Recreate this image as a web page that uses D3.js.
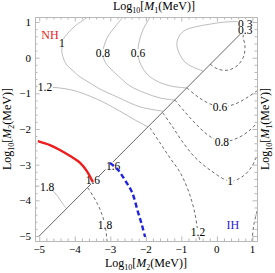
<!DOCTYPE html>
<html>
<head>
<meta charset="utf-8">
<script src="https://cdn.jsdelivr.net/npm/d3@7"></script>
<style>
body { margin: 0; background: #fff; }
svg { display: block; }
</style>
</head>
<body>
<div id="chart"></div>
<script>

// axis ranges (log10 MeV) and ticks
var xDomain = [-5.12, 1.13];
var yDomain = [-5.14, 1.14];
var majorTicks = [-5, -4, -3, -2, -1, 0, 1];

// NH contours (solid, above the diagonal)
var nh03 = [[-0.39,-0.37],[-0.66,-0.27],[-0.92,-0.10],[-1.12,0.30],[-1.09,0.55],[-0.93,0.75],[-0.62,0.86],[-0.19,0.94],[0.23,1.00],[0.65,1.00],[0.85,0.94]];
var nh06 = [[-1.88,1.14],[-2.08,0.78],[-2.19,0.44],[-2.22,0.13],[-2.16,-0.15],[-1.99,-0.43],[-1.74,-0.63],[-1.32,-0.79],[-0.84,-0.85]];
var nh08 = [[-2.64,1.14],[-2.87,0.86],[-3.04,0.64],[-3.15,0.41],[-3.21,0.13],[-3.15,-0.12],[-3.01,-0.29],[-2.78,-0.51],[-2.45,-0.79],[-2.02,-0.99],[-1.60,-1.13],[-1.18,-1.19]];
var nh10 = [[-3.63,1.14],[-3.99,0.89],[-4.19,0.69],[-4.33,0.50],[-4.36,0.30],[-4.36,0.13],[-4.30,-0.07],[-4.22,-0.21],[-4.05,-0.37],[-3.85,-0.54],[-3.57,-0.71],[-3.29,-0.88],[-2.81,-1.10],[-2.16,-1.38],[-1.52,-1.50]];
var nh12 = [[-5.12,-0.79],[-4.84,-0.82],[-4.42,-0.85],[-3.99,-0.93],[-3.57,-1.08],[-3.15,-1.27],[-2.73,-1.50],[-2.30,-1.75],[-1.94,-1.94]];
var nh18 = [[-5.12,-3.60],[-4.78,-3.63],[-4.56,-3.79],[-4.39,-4.02],[-4.25,-4.22]];

// IH contours (dashed, below the diagonal)
var ih03 = [[-0.19,-0.18],[0.03,-0.32],[0.31,-0.35],[0.59,-0.21],[0.76,0.05],[0.79,0.35],[0.74,0.61],[0.85,0.80]];
var ih06 = [[-0.84,-0.85],[-0.56,-1.08],[-0.25,-1.27],[0.09,-1.38],[0.51,-1.30],[0.88,-1.10],[1.13,-0.93]];
var ih08 = [[-1.18,-1.19],[-0.90,-1.52],[-0.59,-1.86],[-0.25,-2.17],[0.14,-2.36],[0.59,-2.25],[0.93,-2.03],[1.13,-1.83]];
var ih10 = [[-1.52,-1.55],[-1.26,-1.92],[-0.98,-2.34],[-0.62,-2.79],[-0.19,-3.15],[0.37,-3.46],[0.74,-3.32],[0.99,-3.04],[1.13,-2.73]];
var ih12 = [[-1.88,-1.97],[-1.60,-2.39],[-1.32,-2.81],[-1.04,-3.21],[-0.81,-3.71],[-0.64,-4.27],[-0.53,-4.89],[-0.48,-5.14]];
var ih18 = [[-3.63,-3.65],[-3.37,-4.08],[-3.23,-4.41],[-3.15,-4.69],[-3.09,-5.14]];
var ihEdge = [[1.13,-4.30],[1.04,-4.69],[0.99,-5.14]];

// highlighted 1.6 curves
var nhRed = [[-5.04,-2.34],[-4.70,-2.45],[-4.42,-2.59],[-4.13,-2.76],[-3.85,-2.95],[-3.66,-3.18],[-3.49,-3.49]];
var ihBlue = [[-3.01,-2.95],[-2.78,-3.15],[-2.59,-3.43],[-2.39,-3.77],[-2.22,-4.33],[-2.11,-4.69],[-2.02,-5.03]];

// diagonal M1 = M2
var diagonal = [[-5, -5], [1, 1]];

// contour labels [x, y, text]
var contourLabels = [
    [-4.36, 0.41, '1'], [-3.21, 0.13, '0.8'], [-2.22, 0.13, '0.6'],
    [-4.84, -0.82, '1.2'], [-4.78, -3.63, '1.8'], [-3.49, -3.43, '1.6'],
    [-2.92, -3.04, '1.6'], [-3.15, -4.69, '1.8'], [-0.53, -4.89, '1.2'],
    [0.37, -3.46, '1'], [0.14, -2.36, '0.8'], [0.09, -1.38, '0.6'],
    [0.80, 0.94, '0.3'], [0.80, 0.77, '0.3']
];
var regionLabels = [[-4.70, 0.64, 'NH', '#ee1c1c'], [0.45, -4.69, 'IH', '#1f22d8']];

var W = 275, H = 273;
var margin = {top: 17, right: 18, bottom: 32, left: 35};
var width = W - margin.left - margin.right,
    height = H - margin.top - margin.bottom;

var svg = d3.select('#chart').append('svg')
    .attr('width', W)
    .attr('height', H)
    .style('font-family', '"Liberation Serif", "Times New Roman", serif');

var x = d3.scaleLinear().domain(xDomain).range([0, width]);
var y = d3.scaleLinear().domain(yDomain).range([height, 0]);

var g = svg.append('g')
    .attr('transform', 'translate(' + margin.left + ',' + margin.top + ')');

var line = d3.line()
    .curve(d3.curveCatmullRom)
    .x(d => x(d[0]))
    .y(d => y(d[1]));

g.append('defs').append('clipPath').attr('id', 'clip')
  .append('rect').attr('width', width).attr('height', height);

var plot = g.append('g').attr('clip-path', 'url(#clip)');

// solid NH contours
[nh03, nh06, nh08, nh10, nh12, nh18].forEach(pts => {
    plot.append('path')
        .attr('d', line(pts))
        .attr('fill', 'none')
        .attr('stroke', '#b4b4b4')
        .attr('stroke-width', 0.9);
});

// dashed IH contours
[ih03, ih06, ih08, ih10, ih12, ih18, ihEdge].forEach(pts => {
    plot.append('path')
        .attr('d', line(pts))
        .attr('fill', 'none')
        .attr('stroke', '#444')
        .attr('stroke-width', 0.8)
        .attr('stroke-dasharray', '3,2.5');
});

// diagonal
plot.append('path')
    .attr('d', d3.line().x(d => x(d[0])).y(d => y(d[1]))(diagonal))
    .attr('stroke', '#555')
    .attr('stroke-width', 0.9);

// contour labels on a white box that breaks the line
var lab = plot.selectAll('.clabel')
    .data(contourLabels)
    .enter().append('g')
    .attr('class', 'clabel')
    .attr('transform', d => 'translate(' + x(d[0]) + ',' + y(d[1]) + ')');
lab.append('text')
    .attr('dy', '0.35em')
    .attr('text-anchor', 'middle')
    .style('font-size', '11.5px')
    .attr('fill', '#000')
    .text(d => d[2]);
lab.each(function() {
    var t = d3.select(this).select('text');
    var b = t.node().getBBox();
    d3.select(this).insert('rect', 'text')
        .attr('x', b.x - 0.5).attr('y', b.y + 2)
        .attr('width', b.width + 1).attr('height', b.height - 4)
        .attr('fill', '#fff');
});

// highlighted curves
plot.append('path')
    .attr('d', line(nhRed))
    .attr('fill', 'none')
    .attr('stroke', '#ee1c1c')
    .attr('stroke-width', 2.4);

plot.append('path')
    .attr('d', line(ihBlue))
    .attr('fill', 'none')
    .attr('stroke', '#1f22e0')
    .attr('stroke-width', 2.4)
    .attr('stroke-dasharray', '5,3');

plot.selectAll('.rlabel')
    .data(regionLabels)
    .enter().append('text')
    .attr('class', 'rlabel')
    .attr('x', d => x(d[0]))
    .attr('y', d => y(d[1]))
    .attr('dy', '0.35em')
    .attr('text-anchor', 'middle')
    .style('font-size', '12px')
    .attr('fill', d => d[3])
    .text(d => d[2]);

// frame with ticks on all sides
var frameColor = '#b8b8b8';
var minorTicks = d3.range(-5.0, 1.2001, 0.2).map(v => Math.round(v * 10) / 10)
    .filter(v => majorTicks.indexOf(v) < 0 && v >= xDomain[0] && v <= xDomain[1]);

var sides = [
    {a: d3.axisBottom, s: x, t: 'translate(0,' + height + ')'},
    {a: d3.axisTop, s: x, t: 'translate(0,0)'},
    {a: d3.axisLeft, s: y, t: 'translate(0,0)'},
    {a: d3.axisRight, s: y, t: 'translate(' + width + ',0)'}
];
sides.forEach(sd => {
    var major = g.append('g').attr('transform', sd.t)
        .call(sd.a(sd.s).tickValues(majorTicks).tickSize(-4.5).tickSizeOuter(0).tickFormat(''));
    var minor = g.append('g').attr('transform', sd.t)
        .call(sd.a(sd.s).tickValues(minorTicks).tickSize(-2.5).tickSizeOuter(0).tickFormat(''));
    [major, minor].forEach(ax => {
        ax.selectAll('line').attr('stroke', frameColor);
        ax.select('.domain').attr('stroke', frameColor).attr('stroke-width', 1);
    });
});

// tick numbers (bottom and left only)
var fmt = d => (d < 0 ? '\u2212' + (-d) : '' + d);
g.selectAll('.xnum').data(majorTicks).enter().append('text')
    .attr('x', d => x(d))
    .attr('y', height + 12)
    .attr('text-anchor', 'middle')
    .style('font-size', '11px')
    .text(fmt);
g.selectAll('.ynum').data(majorTicks).enter().append('text')
    .attr('x', -4)
    .attr('y', d => y(d))
    .attr('dy', '0.35em')
    .attr('text-anchor', 'end')
    .style('font-size', '11px')
    .text(fmt);

// axis titles
function title(sel, idx) {
    sel.append('tspan').text('Log');
    sel.append('tspan').text('10').attr('dy', 3).style('font-size', '8px');
    sel.append('tspan').text('[').attr('dy', -3);
    sel.append('tspan').text('M').style('font-style', 'italic');
    sel.append('tspan').text(idx).attr('dy', 3).style('font-size', '8px');
    sel.append('tspan').text('(MeV)]').attr('dy', -3);
}
var cx = width / 2, cy = height / 2;
svg.append('text').attr('text-anchor', 'middle').style('font-size', '12px')
    .attr('transform', 'translate(' + (margin.left + cx + 8) + ',10)')
    .call(title, '1');
svg.append('text').attr('text-anchor', 'middle').style('font-size', '12px')
    .attr('transform', 'translate(' + (margin.left + cx) + ',' + (H - 6) + ')')
    .call(title, '2');
svg.append('text').attr('text-anchor', 'middle').style('font-size', '12px')
    .attr('transform', 'translate(11,' + (margin.top + cy) + ') rotate(-90)')
    .call(title, '2');
svg.append('text').attr('text-anchor', 'middle').style('font-size', '12px')
    .attr('transform', 'translate(' + (W - 6) + ',' + (margin.top + cy) + ') rotate(-90)')
    .call(title, '1');

</script>
</body>
</html>
